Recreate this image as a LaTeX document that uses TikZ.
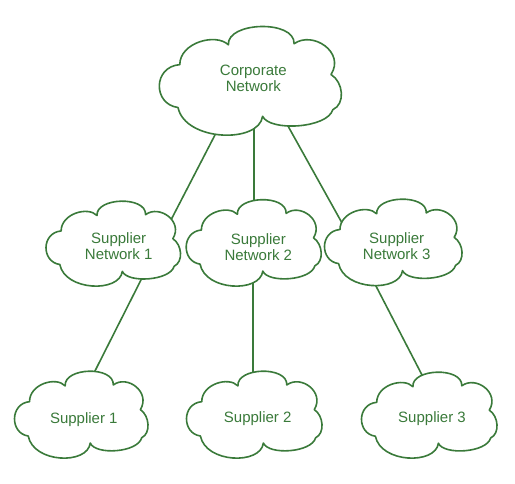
\documentclass[tikz,border=0pt]{standalone}
\usepackage{fontspec}
\setmainfont{Liberation Sans}
\definecolor{netgreen}{RGB}{58,122,58}
\pgfdeclarelayer{bg}
\pgfdeclarelayer{fg}
\pgfsetlayers{bg,main,fg}
\tikzset{
  cloudline/.style={draw=netgreen, line width=1.6pt, fill=white, line join=round},
  conn/.style={draw=netgreen, line width=1.6pt},
  lbl/.style={text=netgreen, align=center, inner sep=0pt, font=\fontsize{15}{14.5}\selectfont}
}
\newcommand{\mycloud}[4]{%
  \begin{scope}[shift={(#1,#2)}, x=#3pt, y=-#4pt]
    \path[cloudline] (0.11,0.36)
      .. controls (0.11,0.16) and (0.31,0.07) .. (0.38,0.18)
      .. controls (0.37,-0.03) and (0.75,-0.05) .. (0.745,0.17)
      .. controls (0.85,0.05) and (1.03,0.25) .. (0.95,0.45)
      .. controls (1.02,0.52) and (1.03,0.72) .. (0.96,0.77)
      .. controls (0.93,0.94) and (0.61,0.97) .. (0.57,0.83)
      .. controls (0.55,1.08) and (0.14,1.06) .. (0.10,0.75)
      .. controls (-0.04,0.72) and (-0.04,0.38) .. cycle;
  \end{scope}}
\begin{document}
\begin{tikzpicture}[x=1pt, y=-1pt]
\useasboundingbox (0,0) rectangle (515,484);
\begin{pgfonlayer}{fg}
\node[lbl] (corp) at (253.3,80.1) {\strut Corporate\\\strut Network};
\node[lbl] (sn1) at (118.7,248.1) {\strut Supplier\\\strut Network 1};
\node[lbl] (sn2) at (258.3,249.1) {\strut Supplier\\\strut Network 2};
\node[lbl] (sn3) at (396.7,248.6) {\strut Supplier\\\strut Network 3};
\node[lbl] (s1) at (83.8,420.2) {\strut Supplier 1};
\node[lbl] (s2) at (257.7,419.6) {\strut Supplier 2};
\node[lbl] (s3) at (432,419.6) {\strut Supplier 3};
\end{pgfonlayer}
\begin{pgfonlayer}{bg}
\draw[conn] ([xshift=-9.9pt]corp.center) -- ([xshift=37.7pt]sn1.center);
\draw[conn] ([xshift=0.7pt]corp.center) -- ([xshift=-4.3pt]sn2.center);
\draw[conn] ([xshift=9.1pt]corp.center) -- ([xshift=-40.4pt]sn3.center);
\draw[conn] ([xshift=38.4pt]sn1.center) -- ([xshift=-13.7pt]s1.center);
\draw[conn] ([xshift=-5.3pt]sn2.center) -- ([xshift=-4.7pt]s2.center);
\draw[conn] ([xshift=-40.1pt]sn3.center) -- ([xshift=13.1pt]s3.center);
\end{pgfonlayer}
\mycloud{160}{25}{180}{110}
\mycloud{46.5}{200}{133}{86}
\mycloud{186.7}{198.5}{133.5}{87.5}
\mycloud{325}{198}{136}{87.5}
\mycloud{15}{370}{132}{88}
\mycloud{187}{370}{134}{88}
\mycloud{362}{371}{134}{87}
\end{tikzpicture}
\end{document}
